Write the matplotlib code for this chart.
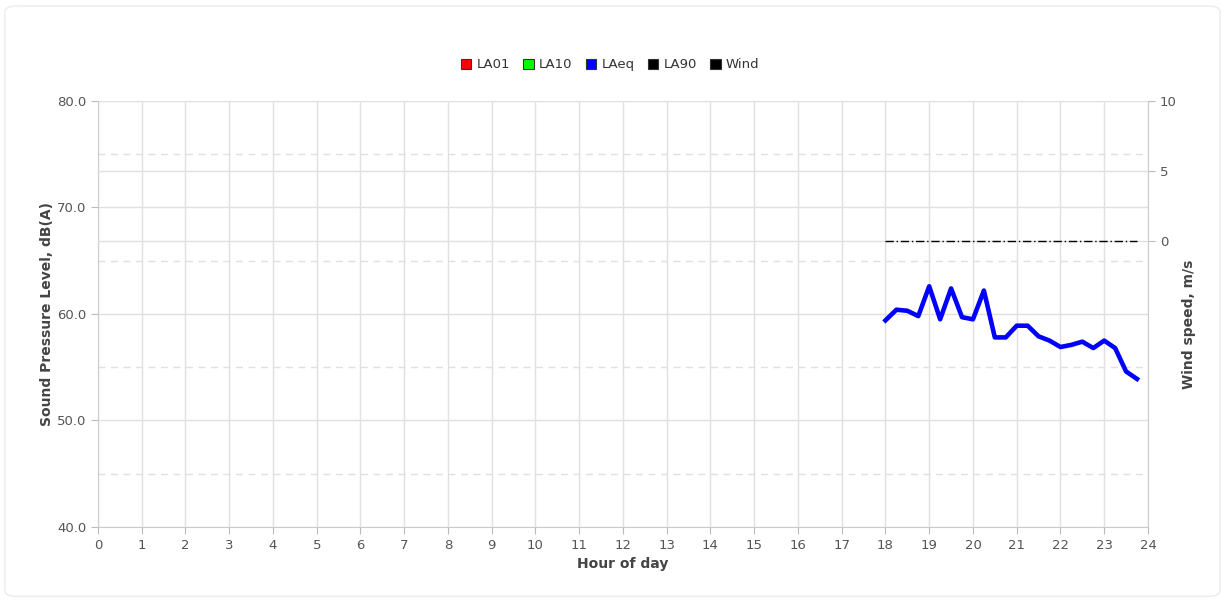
import matplotlib.pyplot as plt
from matplotlib.patches import Patch, FancyBboxPatch
import numpy as np

# 15-minute LAeq readings from 18:00 onwards
hours = [18.0, 18.25, 18.5, 18.75, 19.0, 19.25, 19.5, 19.75, 20.0, 20.25, 20.5, 20.75,
         21.0, 21.25, 21.5, 21.75, 22.0, 22.25, 22.5, 22.75, 23.0, 23.25, 23.5, 23.75]
laeq = [59.4, 60.4, 60.3, 59.8, 62.6, 59.5, 62.4, 59.7, 59.5, 62.2, 57.8, 57.8,
        58.9, 58.9, 57.9, 57.5, 56.9, 57.1, 57.4, 56.8, 57.5, 56.8, 54.6, 53.9]
wind = [0.0] * len(hours)

legend_names = ["LA01", "LA10", "LAeq", "LA90", "Wind"]
legend_colors = ["#ff0000", "#00ff00", "#0000ff", "#000000", "#000000"]

grid_c = "#e0e0e0"
text_c = "#555555"
label_c = "#444444"

fig = plt.figure(figsize=(12.25, 6.0), dpi=100)
fig.patches.append(FancyBboxPatch((0.004, 0.006), 0.992, 0.984, boxstyle="round,pad=0,rounding_size=0.01",
                                  transform=fig.transFigure, fc="white", ec="#ececec", lw=1,
                                  zorder=-10))
ax = fig.add_axes([0.08, 0.1217, 0.8571, 0.71])
ax.patch.set_alpha(0)

ax.set_xlim(0, 24)
ax.set_ylim(40, 80)
ax.set_xticks(range(0, 25))
ax.set_yticks([40, 50, 60, 70, 80])
ax.set_yticklabels([f"{v:.1f}" for v in [40, 50, 60, 70, 80]])
ax.grid(True, color=grid_c, lw=1)
for v in [45, 55, 65, 75]:
    ax.axhline(v, color=grid_c, lw=1, ls=(0, (5, 4)), zorder=0.5)
ax.set_axisbelow(True)

for s in ["top", "right"]:
    ax.spines[s].set_visible(False)
for s in ["left", "bottom"]:
    ax.spines[s].set_color("#cccccc")
ax.tick_params(colors="#bbbbbb", labelcolor=text_c, labelsize=9.5, length=5)

ax.plot(hours, laeq, color="#0000ff", lw=3.3, zorder=3)

ax.set_xlabel("Hour of day", fontsize=10, fontweight="bold", color=label_c, labelpad=4)
ax.set_ylabel("Sound Pressure Level, dB(A)", fontsize=10, fontweight="bold", color=label_c, labelpad=2)

ax2 = ax.twinx()
ax2.patch.set_alpha(0)
ax2.set_ylim(10 - 426 / 14, 10)
ax2.set_yticks([0, 5, 10])
for s in ["top", "left", "bottom"]:
    ax2.spines[s].set_visible(False)
ax2.spines["right"].set_color("#cccccc")
ax2.tick_params(colors="#bbbbbb", labelcolor=text_c, labelsize=9.5, length=5)
ax2.axhline(5, color=grid_c, lw=1, zorder=0)
ax2.axhline(0, color=grid_c, lw=1, zorder=0)
ax2.plot(hours, wind, color="black", lw=1, ls=(0, (6, 2, 1, 2)), zorder=3)
ax2.set_ylabel("Wind speed, m/s", fontsize=10, fontweight="bold", color=label_c)
ax2.yaxis.set_label_coords(1.032, 0.476)

handles = [Patch(facecolor=c, edgecolor="#333333", lw=0.8) for c in legend_colors]
fig.legend(handles, legend_names, loc="center", bbox_to_anchor=(0.498, 0.892), ncol=5,
           frameon=False, fontsize=9.5, handlelength=0.8, handleheight=0.8,
           handletextpad=0.4, columnspacing=1.0, labelcolor="#333333")

fig.savefig("out.png", dpi=100)
